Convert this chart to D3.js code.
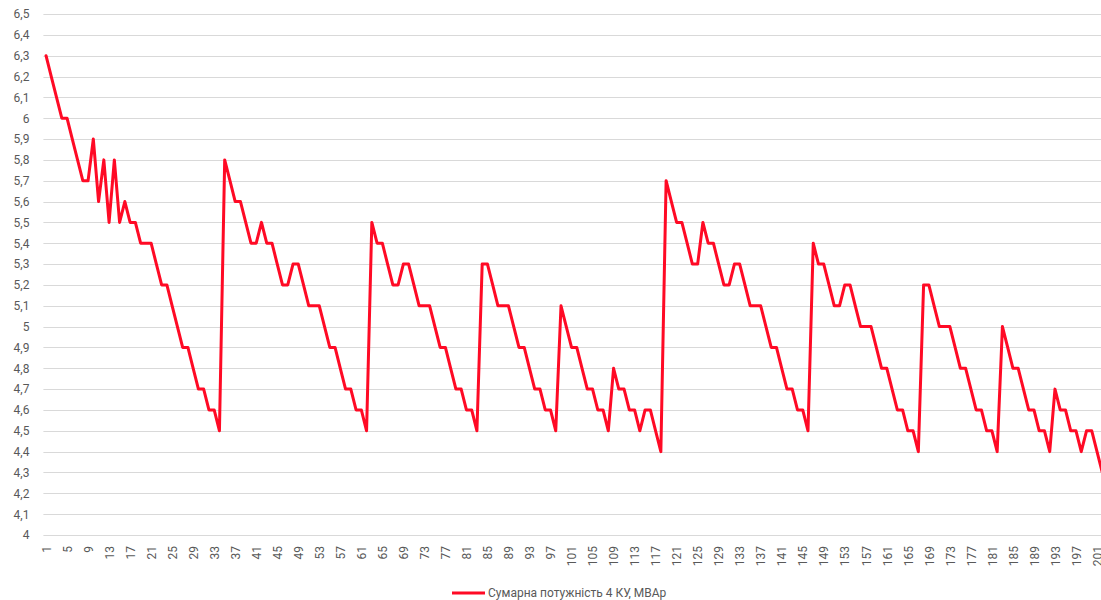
<!DOCTYPE html>
<html>
<head>
<meta charset="utf-8">
<script src="https://cdn.jsdelivr.net/npm/d3@7"></script>
<style>
  html, body { margin: 0; padding: 0; background: #fff; }
  svg { display: block; }
  text { font-family: Roboto, "Noto Sans", sans-serif; fill: #595959; }
</style>
</head>
<body>
<svg id="chart" width="1101" height="600"></svg>
<script>
// Сумарна потужність 4 КУ, МВАр — по кроках 1…202
const steps = d3.range(1, 203);
const totalPower = [
  6.3, 6.2, 6.1, 6.0, 6.0, 5.9, 5.8, 5.7, 5.7, 5.9,
  5.6, 5.8, 5.5, 5.8, 5.5, 5.6, 5.5, 5.5, 5.4, 5.4,
  5.4, 5.3, 5.2, 5.2, 5.1, 5.0, 4.9, 4.9, 4.8, 4.7,
  4.7, 4.6, 4.6, 4.5, 5.8, 5.7, 5.6, 5.6, 5.5, 5.4,
  5.4, 5.5, 5.4, 5.4, 5.3, 5.2, 5.2, 5.3, 5.3, 5.2,
  5.1, 5.1, 5.1, 5.0, 4.9, 4.9, 4.8, 4.7, 4.7, 4.6,
  4.6, 4.5, 5.5, 5.4, 5.4, 5.3, 5.2, 5.2, 5.3, 5.3,
  5.2, 5.1, 5.1, 5.1, 5.0, 4.9, 4.9, 4.8, 4.7, 4.7,
  4.6, 4.6, 4.5, 5.3, 5.3, 5.2, 5.1, 5.1, 5.1, 5.0,
  4.9, 4.9, 4.8, 4.7, 4.7, 4.6, 4.6, 4.5, 5.1, 5.0,
  4.9, 4.9, 4.8, 4.7, 4.7, 4.6, 4.6, 4.5, 4.8, 4.7,
  4.7, 4.6, 4.6, 4.5, 4.6, 4.6, 4.5, 4.4, 5.7, 5.6,
  5.5, 5.5, 5.4, 5.3, 5.3, 5.5, 5.4, 5.4, 5.3, 5.2,
  5.2, 5.3, 5.3, 5.2, 5.1, 5.1, 5.1, 5.0, 4.9, 4.9,
  4.8, 4.7, 4.7, 4.6, 4.6, 4.5, 5.4, 5.3, 5.3, 5.2,
  5.1, 5.1, 5.2, 5.2, 5.1, 5.0, 5.0, 5.0, 4.9, 4.8,
  4.8, 4.7, 4.6, 4.6, 4.5, 4.5, 4.4, 5.2, 5.2, 5.1,
  5.0, 5.0, 5.0, 4.9, 4.8, 4.8, 4.7, 4.6, 4.6, 4.5,
  4.5, 4.4, 5.0, 4.9, 4.8, 4.8, 4.7, 4.6, 4.6, 4.5,
  4.5, 4.4, 4.7, 4.6, 4.6, 4.5, 4.5, 4.4, 4.5, 4.5,
  4.4, 4.3
];
const yTicks = [4.0, 4.1, 4.2, 4.3, 4.4, 4.5, 4.6, 4.7, 4.8, 4.9,
                5.0, 5.1, 5.2, 5.3, 5.4, 5.5, 5.6, 5.7, 5.8, 5.9,
                6.0, 6.1, 6.2, 6.3, 6.4, 6.5];
const xTickEvery = 4;
const seriesName = "Сумарна потужність 4 КУ, МВАр";

const svg = d3.select("#chart");
const plot = { left: 43.4, right: 1104.9, top: 14, bottom: 535 };

const x = d3.scalePoint()
  .domain(steps)
  .range([plot.left, plot.right])
  .padding(0.5);

const y = d3.scaleLinear()
  .domain([4, 6.5])
  .range([plot.bottom, plot.top]);

// decimal comma, no trailing ",0"
const fmt = v => d3.format(".1f")(v).replace(/\.0$/, "").replace(".", ",");

// horizontal gridlines
svg.append("g")
  .selectAll("line")
  .data(yTicks)
  .join("line")
  .attr("x1", plot.left)
  .attr("x2", 1101)
  .attr("y1", d => Math.round(y(d)) + 0.5)
  .attr("y2", d => Math.round(y(d)) + 0.5)
  .attr("stroke", "#d9d9d9")
  .attr("stroke-width", 1);

// y axis labels
const yAxis = d3.axisLeft(y).tickValues(yTicks).tickFormat(fmt).tickSize(0).tickPadding(0);
svg.append("g")
  .attr("transform", `translate(${plot.left - 14},0)`)
  .call(yAxis)
  .call(g => g.select(".domain").remove())
  .call(g => g.selectAll("text")
    .attr("font-size", 12)
    .attr("fill", "#595959")
    .style("font-family", "Roboto, 'Noto Sans', sans-serif"));

// x axis labels, rotated
const xAxis = d3.axisBottom(x)
  .tickValues(steps.filter(d => (d - 1) % xTickEvery === 0))
  .tickSize(0)
  .tickPadding(0);
svg.append("g")
  .attr("transform", `translate(0,${plot.bottom})`)
  .call(xAxis)
  .call(g => g.select(".domain").remove())
  .call(g => g.selectAll("text")
    .attr("font-size", 12)
    .attr("fill", "#595959")
    .style("font-family", "Roboto, 'Noto Sans', sans-serif")
    .attr("text-anchor", "end")
    .attr("transform", "translate(0,11) rotate(-90)")
    .attr("x", 0)
    .attr("y", 0)
    .attr("dy", "0.35em"));

// series line
const line = d3.line()
  .x((d, i) => x(steps[i]))
  .y(d => y(d));

svg.append("path")
  .datum(totalPower)
  .attr("fill", "none")
  .attr("stroke", "#ff0a25")
  .attr("stroke-width", 3)
  .attr("stroke-linejoin", "round")
  .attr("stroke-linecap", "round")
  .attr("d", line);

// legend
const legend = svg.append("g").attr("transform", "translate(452,593)");
legend.append("line")
  .attr("x1", 0).attr("x2", 33)
  .attr("y1", 0).attr("y2", 0)
  .attr("stroke", "#ff0a25")
  .attr("stroke-width", 3);
legend.append("text")
  .attr("x", 36)
  .attr("y", 0)
  .attr("dy", "0.35em")
  .attr("font-size", 12)
  .text(seriesName);
</script>
</body>
</html>
